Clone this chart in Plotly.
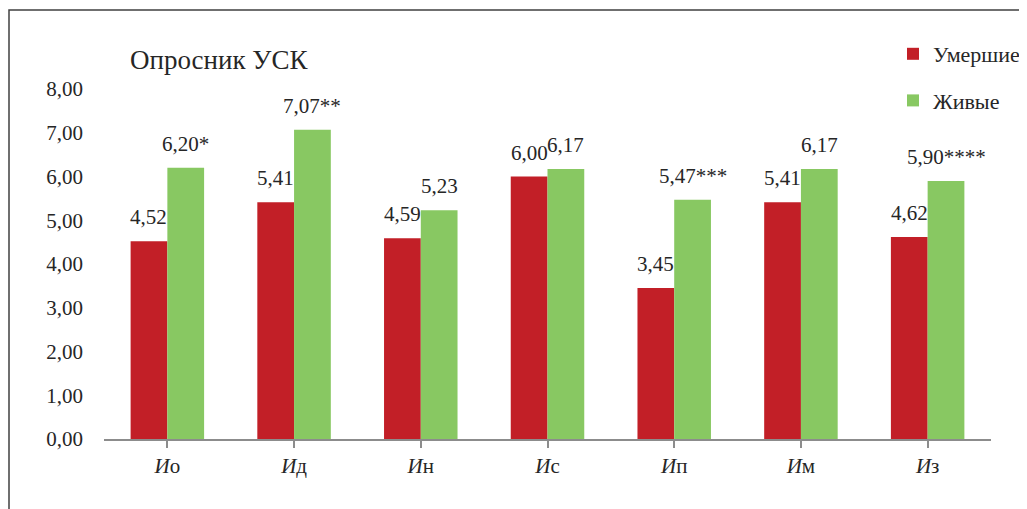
import plotly.graph_objects as go

categories = ["Ио", "Ид", "Ин", "Ис", "Ип", "Им", "Из"]
tick_text = ["<i>И</i>о", "<i>И</i>д", "<i>И</i>н", "<i>И</i>с", "<i>И</i>п", "<i>И</i>м", "<i>И</i>з"]
dead = [4.52, 5.41, 4.59, 6.00, 3.45, 5.41, 4.62]
alive = [6.20, 7.07, 5.23, 6.17, 5.47, 6.17, 5.90]
dead_labels = ["4,52", "5,41", "4,59", "6,00", "3,45", "5,41", "4,62"]
alive_labels = ["6,20*", "7,07**", "5,23", "6,17", "5,47***", "6,17", "5,90****"]
series_names = ["Умершие", "Живые"]
y_ticks = [0, 1, 2, 3, 4, 5, 6, 7, 8]

RED = "#C21F27"
GREEN = "#88C862"
FONT = "Liberation Serif"
TXT = "#262626"
BARGAP = 0.42

# page body has an 8px margin; figure coordinates are offset by it
OFF = 8
W, H = 1027, 509
PL, PR, PT, PB = 104 - OFF, 991 - OFF, 89 - OFF, 439 - OFF
PW, PH = PR - PL, PB - PT


def px(xpix):
    return (xpix - OFF - PL) / PW


def py(ypix):
    return (PB - (ypix - OFF)) / PH


fig = go.Figure()
fig.add_trace(go.Bar(x=list(range(len(categories))), y=dead, name=series_names[0],
                     marker=dict(color=RED, line=dict(width=0)), legendgroup="a"))
fig.add_trace(go.Bar(x=list(range(len(categories))), y=alive, name=series_names[1],
                     marker=dict(color=GREEN, line=dict(width=0)), legendgroup="b"))

w = (1 - BARGAP) / 2
annotations = []
for j, (vals, labs) in enumerate([(dead, dead_labels), (alive, alive_labels)]):
    for i, (v, lab) in enumerate(zip(vals, labs)):
        annotations.append(dict(
            x=i + (j - 0.5) * w, y=v, xref="x", yref="y", text=lab,
            showarrow=False, yanchor="bottom", xanchor="center", yshift=10,
            font=dict(family=FONT, size=21, color=TXT)))

annotations.append(dict(
    x=px(128), y=py(60), xref="paper", yref="paper",
    text="Опросник УСК", showarrow=False, xanchor="left", yanchor="middle",
    font=dict(family=FONT, size=27, color=TXT)))

fig.update_layout(
    width=W, height=H,
    margin=dict(l=PL, r=W - PR, t=PT, b=H - PB, autoexpand=False),
    paper_bgcolor="white", plot_bgcolor="white",
    barmode="group", bargap=BARGAP, bargroupgap=0,
    separators=", ",
    font=dict(family=FONT, size=21, color=TXT),
    showlegend=True,
    legend=dict(x=px(893), y=py(33), xanchor="left", yanchor="top",
                font=dict(family=FONT, size=22, color=TXT), tracegroupgap=15,
                bgcolor="rgba(0,0,0,0)", itemclick=False),
    annotations=annotations,
    shapes=[dict(type="rect", xref="paper", yref="paper",
                 x0=px(9), x1=px(1045),
                 y0=py(530), y1=py(10),
                 line=dict(color="#404040", width=1.5), fillcolor="rgba(0,0,0,0)", layer="below")],
)
fig.update_xaxes(
    tickmode="array", tickvals=list(range(len(categories))), ticktext=tick_text,
    range=[-0.5, len(categories) - 0.5],
    showline=True, linecolor="#8C8C8C", linewidth=1.5,
    ticks="outside", ticklen=7, tickcolor="#8C8C8C", tickwidth=1.5,
    showgrid=False, zeroline=False,
    tickfont=dict(family=FONT, size=21, color=TXT),
)
fig.update_yaxes(
    range=[0, 8], tickvals=y_ticks, tickformat=".2f",
    showline=False, showgrid=False, zeroline=False, ticks="",
    ticklabelstandoff=20,
    tickfont=dict(family=FONT, size=21, color=TXT),
)
fig.write_html("out.html")
